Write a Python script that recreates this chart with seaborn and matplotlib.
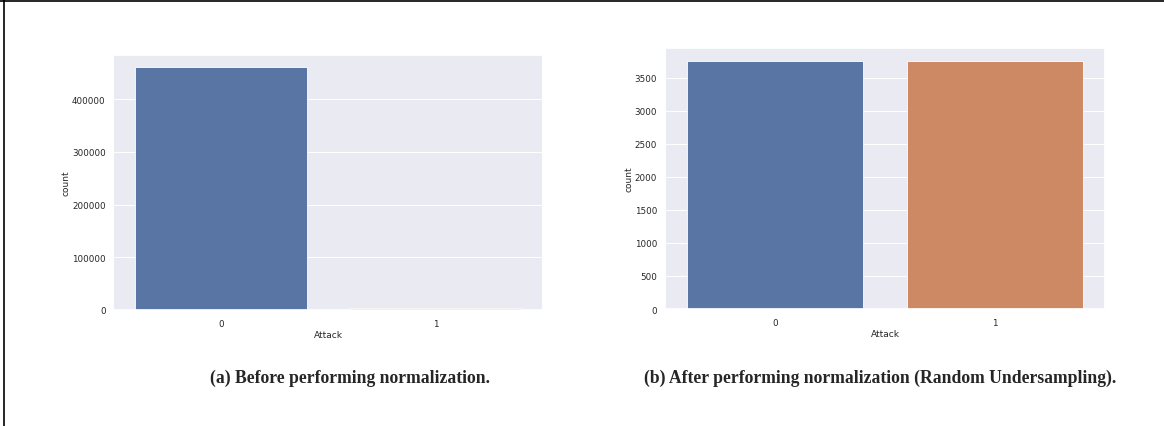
import matplotlib
matplotlib.use("Agg")
import matplotlib.pyplot as plt
from matplotlib.lines import Line2D
import pandas as pd
import seaborn as sns

# Class counts of the "Attack" label
attack_classes = ["0", "1"]
counts_before = [460500, 3760]     # original, highly imbalanced
counts_after = [3760, 3760]        # after random undersampling

captions = [
    "(a) Before performing normalization.",
    "(b) After performing normalization (Random Undersampling).",
]

sns.set_theme(style="darkgrid", rc={"grid.linewidth": 0.7})
plt.rcParams["font.family"] = ["DejaVu Sans"]

fig = plt.figure(figsize=(11.64, 4.27), dpi=100)
ax_a = fig.add_axes([0.0975, 0.2717, 0.3694, 0.597])
ax_b = fig.add_axes([0.5713, 0.274, 0.378, 0.611])

for ax, counts in [(ax_a, counts_before), (ax_b, counts_after)]:
    df = pd.DataFrame({"Attack": attack_classes, "count": counts})
    sns.barplot(data=df, x="Attack", y="count", hue="Attack",
                palette="deep", legend=False, linewidth=0.6, ax=ax)
    ax.tick_params(axis="both", labelsize=6.3, colors=".15", length=0)
    ax.tick_params(axis="x", pad=6.6)
    ax.tick_params(axis="y", pad=5.6)
    ax.set_xlabel("Attack", fontsize=6.5, color=".15", labelpad=1.5)
    ax.set_ylabel("count", fontsize=6.5, color=".15", labelpad=0.8)

fig.text(0.3007, 0.115, captions[0], ha="center", va="center",
         family="Liberation Serif", fontweight="bold", fontsize=12.7)
fig.text(0.756, 0.115, captions[1], ha="center", va="center",
         family="Liberation Serif", fontweight="bold", fontsize=12.7)

# thin frame lines along the top and left edges
fig.add_artist(Line2D([0, 1], [0.995, 0.995], transform=fig.transFigure,
                      color="black", linewidth=1.2))
fig.add_artist(Line2D([0.0035, 0.0035], [0, 1], transform=fig.transFigure,
                      color="black", linewidth=1.2))

fig.savefig("out.png", dpi=100, facecolor="white")
